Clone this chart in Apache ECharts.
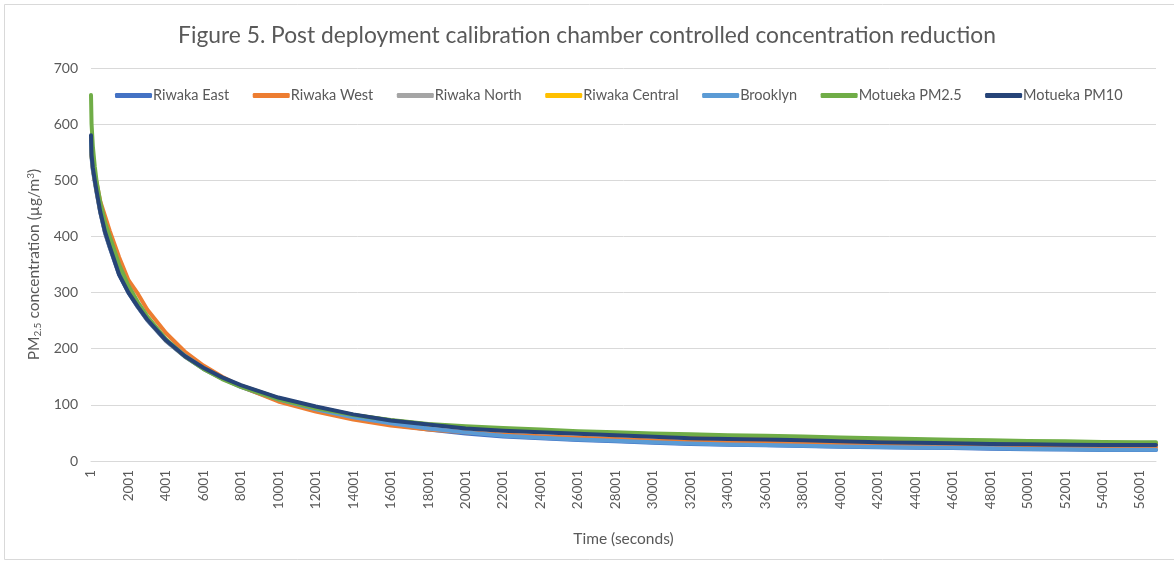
<!DOCTYPE html>
<html lang="en" style="height: 100%">
<head>
    <meta charset="utf-8"/>
</head>
<body style="height: 100%; margin: 0; overflow: hidden; background: #fff">
<div id="container" style="width: 1174px; height: 564px"></div>

<script type="text/javascript" src="https://cdn.jsdelivr.net/npm/echarts@6/dist/echarts.min.js"></script>

<script type="text/javascript">
    // elapsed seconds since start (axis labels show seconds + 1, like the sheet rows)
    var timeSec = [0, 30, 100, 200, 300, 500, 750, 1000, 1500, 2000, 2500, 3000, 4000, 5000, 6000, 7000, 8000,
        10000, 12000, 14000, 16000, 18000, 20000, 22000, 24000, 26000, 28000, 30000, 32000, 34000, 36000,
        38000, 40000, 42000, 44000, 46000, 48000, 50000, 52000, 54000, 56000, 56850];

    var seriesNames = ["Riwaka East", "Riwaka West", "Riwaka North", "Riwaka Central", "Brooklyn", "Motueka PM2.5", "Motueka PM10"];
    var seriesColors = ["#4472C4", "#ED7D31", "#A5A5A5", "#FFC000", "#5B9BD5", "#70AD47", "#264478"];

    var riwakaEast = [560, 540, 518, 497, 478, 442, 406, 380, 332, 300, 274, 251, 214, 186, 164, 147, 132,
        108, 90, 76, 65, 56, 49, 43.5, 40.5, 37.5, 35, 32.5, 30.5, 29, 28,
        26.5, 25.5, 24.5, 23.5, 23, 22, 21, 20.5, 19.5, 19.5, 19.5];
    var riwakaWest = [565, 545, 530, 512, 495, 462, 436, 410, 363, 322, 298, 270, 228, 195, 170, 150, 133,
        106, 88, 74, 63, 56, 51, 47, 44, 41.5, 39, 36.5, 34.5, 33, 32.5,
        31.5, 30.5, 29.5, 28.5, 27.5, 26.5, 25.5, 25, 24.5, 24.5, 24.5];
    var riwakaNorth = [575, 545, 520, 500, 480, 444, 408, 382, 334, 301, 275, 252, 215, 187, 165, 148, 134,
        112, 96, 82, 72, 65, 59, 55, 52, 49.5, 47, 44.5, 42, 40.5, 39.5,
        38, 36.5, 35, 34, 33, 32, 31, 30.5, 30, 30, 30];
    var riwakaCentral = [572, 543, 521, 501, 482, 446, 410, 385, 336, 303, 277, 253, 215, 187, 165, 148, 134,
        112, 96, 82, 72, 65, 60, 56, 53, 50.5, 48.5, 46, 44, 42.5, 41.5,
        40, 38.5, 37, 36, 35, 34, 33, 32, 31, 31, 31];
    var brooklyn = [570, 545, 522, 503, 484, 450, 414, 388, 340, 306, 279, 255, 216, 188, 165, 148, 133,
        110, 92, 78, 67, 58, 51, 45, 41.5, 38.5, 36, 33.5, 31, 29.5, 28.5,
        27, 26, 25, 24, 23.5, 22.5, 21.5, 21, 20, 20, 20];
    var motuekaPM25 = [652, 600, 560, 525, 498, 460, 425, 400, 350, 312, 283, 258, 217, 187, 164, 146, 132,
        110, 94, 82, 73, 66, 62, 59, 56, 53, 51, 49, 47.5, 46, 45,
        43.5, 42, 40.5, 39, 38, 37, 35.5, 35, 34, 33.5, 33.5];
    var motuekaPM10 = [580, 545, 522, 500, 480, 443, 408, 382, 332, 300, 275, 252, 215, 187, 166, 149, 135,
        113, 97, 83, 72, 65, 58, 54, 51, 48.5, 46, 43, 40.5, 39, 38.5,
        37, 35, 33.5, 32.5, 31.5, 30.5, 30, 29, 28.5, 28.5, 28.5];

    var seriesValues = [riwakaEast, riwakaWest, riwakaNorth, riwakaCentral, brooklyn, motuekaPM25, motuekaPM10];

    var yTicks = [0, 100, 200, 300, 400, 500, 600, 700];

    var dom = document.getElementById("container");
    var myChart = echarts.init(dom, null, {renderer: "canvas"});

    var fontName = "Lato";
    var textGray = "#595959";

    var series = seriesNames.map(function (name, i) {
        return {
            name: name,
            type: "line",
            data: timeSec.map(function (t, k) {
                return [t, seriesValues[i][k]];
            }),
            showSymbol: false,
            symbol: "none",
            lineStyle: {width: 4, color: seriesColors[i], cap: "round", join: "round"},
            itemStyle: {color: seriesColors[i]},
        };
    });

    var option = {
        animation: false,
        textStyle: {fontFamily: fontName},
        title: {
            text: "Figure 5. Post deployment calibration chamber controlled concentration reduction",
            left: "center",
            top: 19,
            textStyle: {fontFamily: fontName, fontSize: 22.8, fontWeight: "normal", color: textGray},
        },
        legend: {
            top: 83,
            left: 110,
            icon: "roundRect",
            itemWidth: 37,
            itemHeight: 5,
            itemGap: 23.5,
            textStyle: {fontFamily: fontName, fontSize: 14.5, color: textGray, padding: [0, 0, 0, -4]},
            data: seriesNames,
        },
        graphic: [{
            type: "rect",
            shape: {x: 4.5, y: 4.5, width: 1200, height: 555},
            style: {fill: "none", stroke: "#d9d9d9", lineWidth: 1},
            silent: true,
        }],
        grid: {left: 91, right: 18, top: 68, bottom: 103},
        xAxis: {
            type: "value",
            min: 0,
            max: 56850,
            interval: 2000,
            name: "Time (seconds)",
            nameLocation: "middle",
            nameGap: 70,
            nameTextStyle: {fontFamily: fontName, fontSize: 15.5, color: textGray},
            axisLine: {show: true, lineStyle: {color: "#d9d9d9", width: 1}},
            axisTick: {show: false},
            splitLine: {show: false},
            axisLabel: {
                rotate: 90,
                margin: 9,
                fontFamily: fontName,
                fontSize: 13.5,
                color: textGray,
                formatter: function (v) {
                    return v % 2000 === 0 ? String(v + 1) : "";
                },
            },
        },
        yAxis: {
            type: "value",
            min: yTicks[0],
            max: yTicks[yTicks.length - 1],
            interval: 100,
            name: "PM{sub|2.5} concentration (µg/m{sup|3})",
            nameLocation: "middle",
            nameRotate: 90,
            nameGap: 44,
            nameTextStyle: {
                fontFamily: fontName,
                fontSize: 15.5,
                color: textGray,
                rich: {
                    sub: {fontFamily: fontName, fontSize: 10, color: textGray, verticalAlign: "bottom", padding: [7, 0, 0, 0]},
                    sup: {fontFamily: fontName, fontSize: 10, color: textGray, verticalAlign: "top", padding: [0, 0, 7, 0]},
                },
            },
            axisLine: {show: false},
            axisTick: {show: false},
            splitLine: {lineStyle: {color: "#d9d9d9", width: 1}},
            axisLabel: {margin: 13, fontFamily: fontName, fontSize: 14, color: textGray},
        },
        series: series,
    };

    myChart.setOption(option);
    window.addEventListener("resize", myChart.resize);
</script>
</body>
</html>
